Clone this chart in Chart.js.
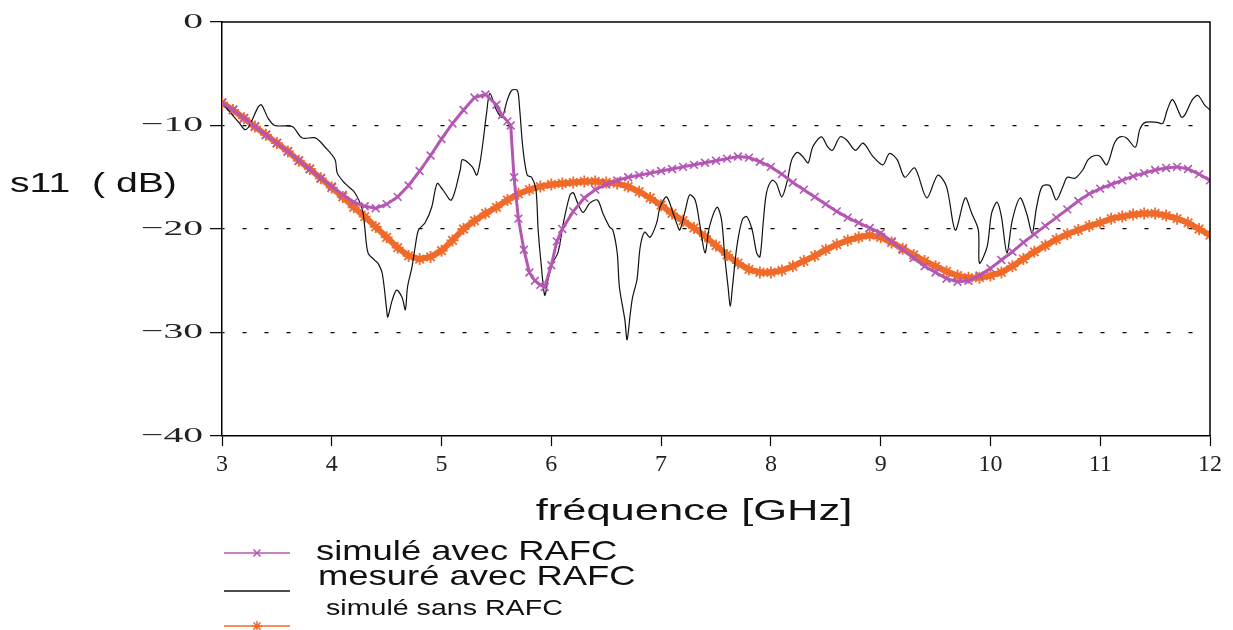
<!DOCTYPE html>
<html>
<head>
<meta charset="utf-8">
<script src="https://cdn.jsdelivr.net/npm/chart.js@4.4.1/dist/chart.umd.min.js"></script>
<style>
  html, body { margin: 0; padding: 0; background: #fff; }
  #wrap { width: 1233px; height: 630px; }
</style>
</head>
<body>
<div id="wrap"><canvas id="c" width="1233" height="630"></canvas></div>
<script>
// s11 (dB) vs fréquence (GHz)

const seriesNames = ['simulé avec RAFC', 'mesuré avec RAFC', 'simulé sans RAFC'];
const xTicks = [3, 4, 5, 6, 7, 8, 9, 10, 11, 12];
const yTicks = [0, -10, -20, -30, -40];

// simulé avec RAFC
const freqAvec = [3.0, 3.1, 3.2, 3.3, 3.4, 3.5, 3.6, 3.7, 3.8, 3.9,
  4.0, 4.1, 4.2, 4.3, 4.4, 4.5, 4.6, 4.7, 4.8, 4.9,
  5.0, 5.1, 5.2, 5.3, 5.4, 5.5, 5.55, 5.6, 5.63, 5.66, 5.7, 5.75, 5.8, 5.85, 5.9, 5.94,
  6.0, 6.05, 6.1, 6.2, 6.3, 6.4, 6.5, 6.6, 6.7, 6.8, 6.9,
  7.0, 7.1, 7.2, 7.3, 7.4, 7.5, 7.6, 7.7, 7.8, 7.9,
  8.0, 8.1, 8.2, 8.3, 8.4, 8.5, 8.6, 8.7, 8.8, 8.9,
  9.0, 9.1, 9.2, 9.3, 9.4, 9.5, 9.6, 9.7, 9.8, 9.9,
  10.0, 10.1, 10.2, 10.3, 10.4, 10.5, 10.6, 10.7, 10.8, 10.9,
  11.0, 11.1, 11.2, 11.3, 11.4, 11.5, 11.6, 11.7, 11.8, 11.9, 12.0];
const s11Avec = [-7.8, -8.5, -9.3, -10.1, -10.9, -11.7, -12.5, -13.4, -14.2, -15.1,
  -15.9, -16.7, -17.4, -17.8, -18.0, -17.6, -16.9, -15.8, -14.4, -12.9,
  -11.3, -9.8, -8.5, -7.3, -7.0, -8.0, -9.0, -9.6, -10.0, -15.0, -19.0, -22.0, -24.2, -25.0, -25.4, -25.6,
  -23.5, -21.2, -20.0, -18.3, -17.0, -16.2, -15.7, -15.3, -15.0, -14.8, -14.6,
  -14.4, -14.2, -14.0, -13.8, -13.6, -13.4, -13.2, -13.0, -13.1, -13.5,
  -14.0, -14.7, -15.5, -16.2, -16.9, -17.6, -18.3, -18.9, -19.4, -19.9,
  -20.4, -21.2, -22.0, -22.8, -23.6, -24.2, -24.8, -25.1, -25.0, -24.5,
  -23.8, -23.0, -22.2, -21.3, -20.5, -19.7, -18.9, -18.1, -17.3, -16.6,
  -16.1, -15.7, -15.3, -14.9, -14.6, -14.3, -14.1, -14.0, -14.2, -14.7, -15.3];

// mesuré avec RAFC
const freqMesure = [3.00, 3.16, 3.21, 3.25, 3.33, 3.36, 3.42, 3.48, 3.64, 3.73, 3.85, 3.94,
  4.03, 4.05, 4.12, 4.21, 4.28, 4.30, 4.33, 4.39, 4.42, 4.46, 4.50, 4.51, 4.55, 4.59,
  4.64, 4.67, 4.69, 4.73, 4.76, 4.79, 4.85, 4.91, 4.96, 5.01, 5.09, 5.17, 5.19, 5.28,
  5.32, 5.35, 5.38, 5.41, 5.44, 5.50, 5.55, 5.60, 5.64, 5.69, 5.71, 5.74, 5.78, 5.82,
  5.86, 5.88, 5.91, 5.94, 5.97, 6.01, 6.06, 6.11, 6.17, 6.20, 6.24, 6.29, 6.35, 6.42,
  6.47, 6.53, 6.56, 6.60, 6.62, 6.67, 6.69, 6.72, 6.74, 6.78, 6.81, 6.85, 6.90, 6.96,
  6.99, 7.05, 7.11, 7.14, 7.17, 7.22, 7.26, 7.31, 7.35, 7.40, 7.44, 7.51, 7.55, 7.58,
  7.61, 7.63, 7.65, 7.69, 7.74, 7.78, 7.83, 7.87, 7.90, 7.93, 7.96, 8.01, 8.05, 8.10,
  8.15, 8.19, 8.24, 8.29, 8.34, 8.38, 8.46, 8.52, 8.56, 8.63, 8.69, 8.77, 8.84, 8.93,
  9.02, 9.08, 9.15, 9.22, 9.31, 9.42, 9.52, 9.60, 9.68, 9.77, 9.83, 9.89, 9.90, 9.97,
  10.01, 10.06, 10.10, 10.15, 10.20, 10.27, 10.33, 10.38, 10.42, 10.47, 10.54, 10.60,
  10.66, 10.70, 10.77, 10.84, 10.89, 10.95, 11.00, 11.06, 11.13, 11.18, 11.24, 11.32,
  11.36, 11.41, 11.52, 11.57, 11.61, 11.66, 11.74, 11.77, 11.84, 11.89, 11.95, 12.00];
const s11Mesure = [-7.8, -9.8, -10.4, -10.0, -8.2, -8.0, -9.3, -10.0, -10.1, -11.2, -11.2, -12.1,
  -13.3, -14.6, -15.6, -16.5, -18.2, -19.8, -22.3, -23.0, -23.3, -24.3, -27.8, -28.5, -26.9, -25.9,
  -26.6, -27.8, -25.6, -23.7, -21.7, -20.1, -19.4, -17.9, -15.6, -16.2, -17.2, -14.3, -13.3, -14.0,
  -14.8, -13.6, -11.4, -8.8, -6.9, -8.5, -9.2, -7.5, -6.6, -6.6, -8.2, -12.1, -14.8, -15.0,
  -16.2, -20.1, -23.7, -26.4, -24.9, -23.3, -22.3, -19.4, -16.7, -16.5, -17.5, -18.4, -17.5, -17.2,
  -18.5, -19.8, -20.1, -22.3, -25.6, -28.8, -30.7, -28.1, -26.6, -24.9, -21.7, -20.3, -20.8, -19.4,
  -17.9, -16.9, -18.5, -19.4, -20.1, -18.2, -16.7, -17.2, -19.4, -22.3, -19.8, -17.9, -19.1, -22.7,
  -25.6, -27.5, -25.6, -21.7, -19.1, -18.8, -20.1, -22.3, -22.7, -19.4, -16.5, -15.3, -15.6, -16.9,
  -15.3, -13.3, -12.6, -13.0, -13.6, -12.1, -11.1, -12.1, -12.4, -11.1, -11.4, -12.4, -11.7, -13.0,
  -13.8, -12.7, -13.3, -15.0, -14.1, -17.0, -14.8, -15.9, -20.1, -17.0, -18.5, -20.1, -23.3, -21.7,
  -18.5, -17.4, -18.8, -22.3, -19.1, -17.0, -18.5, -20.4, -17.9, -15.9, -15.8, -17.2,
  -15.9, -15.0, -15.1, -14.3, -13.3, -12.9, -13.0, -13.8, -11.7, -11.1, -11.2, -12.1,
  -10.4, -9.7, -9.7, -9.8, -8.5, -7.5, -9.2, -9.0, -7.5, -7.1, -8.0, -8.5];

// simulé sans RAFC
const freqSans = [3.0, 3.1, 3.2, 3.3, 3.4, 3.5, 3.6, 3.7, 3.8, 3.9,
  4.0, 4.1, 4.2, 4.3, 4.4, 4.5, 4.6, 4.7, 4.8, 4.9,
  5.0, 5.1, 5.2, 5.3, 5.4, 5.5, 5.6, 5.7, 5.8, 5.9,
  6.0, 6.1, 6.2, 6.3, 6.4, 6.5, 6.6, 6.7, 6.8, 6.9,
  7.0, 7.1, 7.2, 7.3, 7.4, 7.5, 7.6, 7.7, 7.8, 7.9,
  8.0, 8.1, 8.2, 8.3, 8.4, 8.5, 8.6, 8.7, 8.8, 8.9,
  9.0, 9.1, 9.2, 9.3, 9.4, 9.5, 9.6, 9.7, 9.8, 9.9,
  10.0, 10.1, 10.2, 10.3, 10.4, 10.5, 10.6, 10.7, 10.8, 10.9,
  11.0, 11.1, 11.2, 11.3, 11.4, 11.5, 11.6, 11.7, 11.8, 11.9, 12.0];
const s11Sans = [-7.8, -8.5, -9.3, -10.1, -10.9, -11.7, -12.5, -13.4, -14.2, -15.1,
  -16.0, -16.9, -17.9, -18.8, -19.8, -20.8, -21.8, -22.6, -22.9, -22.7,
  -22.1, -21.1, -20.0, -19.2, -18.5, -17.9, -17.2, -16.6, -16.2, -15.9,
  -15.7, -15.6, -15.5, -15.4, -15.4, -15.5, -15.6, -15.9, -16.4, -17.0,
  -17.7, -18.5, -19.2, -19.9, -20.7, -21.6, -22.5, -23.3, -23.9, -24.2,
  -24.2, -24.0, -23.6, -23.1, -22.6, -22.0, -21.5, -21.1, -20.8, -20.6,
  -20.8, -21.3, -21.9, -22.5, -23.1, -23.6, -24.1, -24.5, -24.7, -24.7,
  -24.5, -24.2, -23.6, -22.9, -22.2, -21.6, -21.0, -20.5, -20.1, -19.7,
  -19.4, -19.0, -18.8, -18.6, -18.5, -18.5, -18.7, -19.0, -19.4, -20.0, -20.6];

const PURPLE = '#B457B4';
const ORANGE = '#F06A2A';
const BLACK = '#111111';

const toPoints = (xs, ys) => xs.map((x, i) => ({ x: x, y: ys[i] }));

// draws text stretched horizontally, the original is wide
function wideText(ctx, text, x, y, font, sx, align) {
  ctx.save();
  ctx.translate(x, y);
  ctx.scale(sx, 1);
  ctx.font = font;
  ctx.textAlign = align;
  ctx.textBaseline = 'middle';
  ctx.fillText(text, 0, 0);
  ctx.restore();
}

const decorPlugin = {
  id: 'decor',
  afterDraw(chart) {
    const ctx = chart.ctx;
    const a = chart.chartArea;
    const yScale = chart.scales.y;

    // top and right frame
    ctx.save();
    ctx.strokeStyle = '#000';
    ctx.lineWidth = 1.5;
    ctx.beginPath();
    ctx.moveTo(a.left, a.top);
    ctx.lineTo(a.right, a.top);
    ctx.lineTo(a.right, a.bottom);
    ctx.stroke();
    ctx.restore();

    // y tick labels (wide serif)
    ctx.save();
    ctx.fillStyle = '#222';
    yTicks.forEach(v => {
      const py = yScale.getPixelForValue(v);
      const txt = v === 0 ? '0' : '\u2212' + Math.abs(v);
      wideText(ctx, txt, 203, py, '22px "Liberation Serif"', 1.8, 'right');
    });

    // axis titles
    ctx.fillStyle = '#111';
    wideText(ctx, 's11  ( dB)', 10, 185, '27px "Liberation Sans"', 1.45, 'left');
    wideText(ctx, 'fréquence [GHz]', 694, 512, '30px "Liberation Sans"', 1.45, 'center');

    // legend
    const rows = [
      { ds: chart.data.datasets[0], ly: 553, ty: 552, font: '28px "Liberation Sans"', tx: 316 },
      { ds: chart.data.datasets[1], ly: 591, ty: 577, font: '28px "Liberation Sans"', tx: 318 },
      { ds: chart.data.datasets[2], ly: 626, ty: 609, font: '22px "Liberation Sans"', tx: 326 }
    ];
    rows.forEach(r => {
      ctx.strokeStyle = r.ds.borderColor;
      ctx.lineWidth = 1.5;
      ctx.beginPath();
      ctx.moveTo(224, r.ly);
      ctx.lineTo(290, r.ly);
      ctx.stroke();
      if (r.ds.pointRadius > 0) {
        Chart.helpers.drawPoint(ctx, {
          pointStyle: r.ds.pointStyle,
          radius: 5,
          borderWidth: 1.5,
          rotation: 0
        }, 257, r.ly);
      }
      ctx.fillStyle = '#111';
      wideText(ctx, r.ds.label, r.tx, r.ty, r.font, 1.3, 'left');
    });
    ctx.restore();
  }
};

new Chart(document.getElementById('c'), {
  type: 'line',
  data: {
    datasets: [
      {
        label: seriesNames[0],
        data: toPoints(freqAvec, s11Avec),
        borderColor: PURPLE,
        backgroundColor: PURPLE,
        borderWidth: 3,
        pointStyle: 'crossRot',
        pointRadius: 5.5,
        pointBorderWidth: 1.6,
        pointBorderColor: PURPLE,
        fill: false,
        tension: 0
      },
      {
        label: seriesNames[1],
        data: toPoints(freqMesure, s11Mesure),
        borderColor: BLACK,
        backgroundColor: BLACK,
        borderWidth: 1.2,
        pointRadius: 0,
        fill: false,
        tension: 0.3
      },
      {
        label: seriesNames[2],
        data: toPoints(freqSans, s11Sans),
        borderColor: ORANGE,
        backgroundColor: ORANGE,
        borderWidth: 6,
        pointStyle: 'star',
        pointRadius: 6,
        pointBorderWidth: 1.8,
        pointBorderColor: ORANGE,
        fill: false,
        tension: 0
      }
    ]
  },
  options: {
    responsive: false,
    animation: false,
    devicePixelRatio: 1,
    layout: { padding: { top: 22, right: 23, left: 0, bottom: 0 } },
    plugins: {
      legend: { display: false },
      tooltip: { enabled: false }
    },
    scales: {
      x: {
        type: 'linear',
        min: 3,
        max: 12,
        afterBuildTicks: scale => { scale.ticks = xTicks.map(v => ({ value: v })); },
        afterFit: scale => { scale.height = 194; },
        ticks: {
          color: '#222',
          font: { family: '"Liberation Serif"', size: 24 },
          padding: 4
        },
        grid: { drawOnChartArea: false, drawTicks: true, tickLength: 10, tickColor: '#000', tickWidth: 1.2 },
        border: { color: '#000', width: 1.5 }
      },
      y: {
        min: -40,
        max: 0,
        afterBuildTicks: scale => { scale.ticks = yTicks.map(v => ({ value: v })); },
        afterFit: scale => { scale.width = 222; },
        ticks: { display: false },
        grid: {
          color: ctx => (ctx.tick && (ctx.tick.value === 0 || ctx.tick.value === -40)) ? 'rgba(0,0,0,0)' : '#000',
          lineWidth: 1.3,
          drawTicks: true,
          tickLength: 12,
          tickColor: '#000',
          tickWidth: 1.2
        },
        border: { color: '#000', width: 1.5, dash: [4, 18], dashOffset: -20 }
      }
    }
  },
  plugins: [decorPlugin]
});
</script>
</body>
</html>
